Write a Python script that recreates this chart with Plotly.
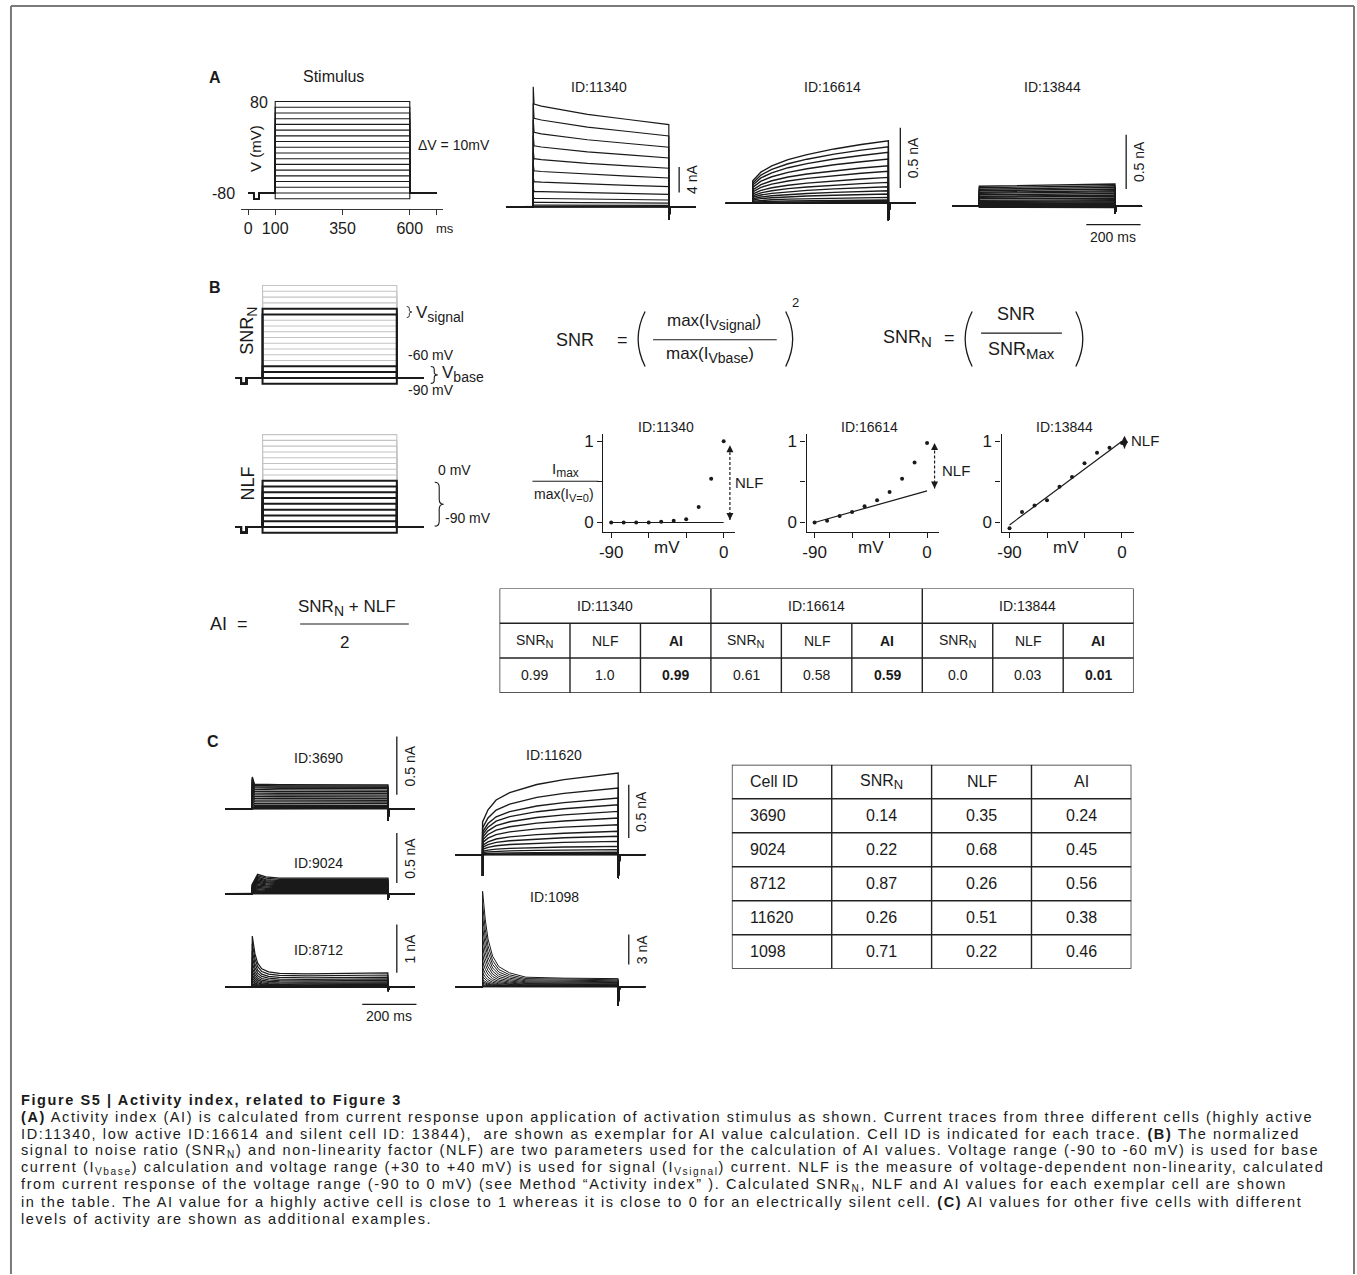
import plotly.graph_objects as go

W, H = 1357, 1275
FONT = "Liberation Sans, Arial, Helvetica, sans-serif"
INK = "#1a1a1a"
GREY = "#c4c4c4"

# ---------------- voltage protocol ----------------
STEP_MV = [-90, -80, -70, -60, -50, -40, -30, -20, -10, 0, 10, 20, 30, 40, 50, 60, 70, 80]
HOLD_MV = -80
PRE_MV = -90
PRE_MS = [20, 40]
STEP_MS = [100, 600]
END_MS = 700
STIM_TICK_MS = [0, 100, 350, 600]
STIM_TICK_TXT = ["0", "100", "350", "600"]
STIM_MINOR_MS = [700]
SIGNAL_MV = [30, 40]
BASE_MV = [-90, -80, -70, -60]
NLF_MAX_MV = 0

# ---------------- current families (amplitude per sweep, -90 .. +80 mV) ----------------
AMP_11340 = [0.0, 0.0, 0.0, 0.0, 0.02, 0.04, 0.07, 0.25, 0.7, 1.3, 2.4, 3.9, 5.6, 7.5, 9.5, 11.6, 13.8, 16.0]
PT_11340 = [100, 103, 130, 300, 450, 600]
PF_11340 = [1.17, 1.0, 0.98, 0.9, 0.85, 0.8]
DIP_11340 = -2.0

AMP_16614 = [0.0, 0.002, 0.004, 0.008, 0.017, 0.028, 0.05, 0.078, 0.105, 0.138, 0.174, 0.215, 0.265, 0.312, 0.367, 0.422, 0.469, 0.518]
PT_16614 = [100, 130, 170, 230, 300, 400, 500, 600]
PF_16614 = [0.36, 0.5, 0.6, 0.7, 0.78, 0.87, 0.94, 1.0]
DIP_16614 = -0.14

AMP_13844 = [-0.01, 0.0, 0.01, 0.02, 0.03, 0.04, 0.05, 0.06, 0.075, 0.09, 0.1, 0.115, 0.13, 0.14, 0.155, 0.17, 0.185, 0.2]
PT_13844 = [100, 200, 350, 500, 600]
PF_13844 = [0.93, 0.95, 0.97, 1.0, 1.03]
DIP_13844 = -0.07

AMP_3690 = [0.0, 0.005, 0.01, 0.02, 0.03, 0.045, 0.06, 0.075, 0.09, 0.105, 0.12, 0.135, 0.15, 0.165, 0.18, 0.19, 0.2, 0.21]
PT_3690 = [100, 108, 200, 400, 600]
PF_3690 = [1.3, 1.0, 0.98, 0.97, 0.97]
DIP_3690 = -0.1

AMP_9024 = [0.0, 0.004, 0.008, 0.015, 0.022, 0.03, 0.04, 0.05, 0.06, 0.07, 0.08, 0.09, 0.1, 0.11, 0.12, 0.13, 0.143, 0.155]
PT_9024 = [100, 120, 150, 200, 400, 600]
PF_9024 = [0.6, 1.25, 1.08, 1.0, 1.0, 1.0]
DIP_9024 = -0.06

AMP_8712 = [0.0, 0.005, 0.01, 0.02, 0.03, 0.05, 0.07, 0.1, 0.14, 0.19, 0.25, 0.32, 0.4, 0.5, 0.62, 0.75, 0.9, 1.06]
PT_8712 = [100, 110, 120, 135, 160, 200, 300, 450, 600]
PF_8712 = [1.0, 0.65, 0.47, 0.36, 0.3, 0.27, 0.26, 0.27, 0.28]
DIP_8712 = -0.08

AMP_11620 = [0.0, 0.0, 0.002, 0.005, 0.01, 0.022, 0.047, 0.078, 0.125, 0.172, 0.219, 0.281, 0.344, 0.406, 0.469, 0.531, 0.625, 0.766]
PT_11620 = [100, 120, 150, 200, 300, 400, 500, 600]
PF_11620 = [0.4, 0.55, 0.67, 0.76, 0.86, 0.92, 0.96, 1.0]
DIP_11620 = -0.22
ONSET_11620 = -0.2

AMP_1098 = [0.0, 0.05, 0.1, 0.2, 0.35, 0.5, 0.7, 1.0, 1.4, 1.9, 2.5, 3.2, 4.0, 4.9, 5.9, 7.0, 8.2, 9.56]
PT_1098 = [100, 110, 120, 137, 160, 200, 260, 400, 600]
PF_1098 = [1.0, 0.7, 0.5, 0.32, 0.21, 0.145, 0.1, 0.09, 0.085]
DIP_1098 = -1.9

SCALE_MS = 200

# ---------------- normalised I-V (NLF) ----------------
NLF_MV = [-90, -80, -70, -60, -50, -40, -30, -20, -10, 0]
IV_11340 = [0.0, 0.0, 0.0, 0.0, 0.01, 0.02, 0.04, 0.19, 0.54, 1.0]
IV_16614 = [0.0, 0.02, 0.08, 0.13, 0.2, 0.275, 0.377, 0.54, 0.74, 0.98]
IV_13844 = [-0.07, 0.13, 0.21, 0.275, 0.44, 0.56, 0.73, 0.86, 0.92, 0.98]
FIT_11340 = [0.0, 0.0]
FIT_16614 = [0.0, 0.39]
FIT_13844 = [-0.03, 1.0]
ARROW_11340 = [0.03, 0.95]
ARROW_16614 = [0.42, 0.98]
ARROW_13844 = [0.91, 1.07]


def sub(s, size):
    return f"<sub><span style='font-size:{size}px'>{s}</span></sub>"


# ---------------- tables ----------------
T1_IDS = ["ID:11340", "ID:16614", "ID:13844"]
T1_HEAD = ["SNR" + sub("N", 11), "NLF", "<b>AI</b>"]
T1_SNRN = ["0.99", "0.61", "0.0"]
T1_NLF = ["1.0", "0.58", "0.03"]
T1_AI = ["0.99", "0.59", "0.01"]

T2_HEAD = ["Cell ID", "SNR" + sub("N", 13), "NLF", "AI"]
T2_CELL = ["3690", "9024", "8712", "11620", "1098"]
T2_SNRN = ["0.14", "0.22", "0.87", "0.26", "0.71"]
T2_NLF = ["0.35", "0.68", "0.26", "0.51", "0.22"]
T2_AI = ["0.24", "0.45", "0.56", "0.38", "0.46"]

CAPTION = [
    "<b>Figure S5 | Activity index, related to Figure 3</b>",
    "<b>(A)</b> Activity index (AI) is calculated from current response upon application of activation stimulus as shown. Current traces from three different cells (highly active",
    "ID:11340, low active ID:16614 and silent cell ID: 13844),  are shown as exemplar for AI value calculation. Cell ID is indicated for each trace. <b>(B)</b> The normalized",
    "signal to noise ratio (SNR<sub>N</sub>) and non-linearity factor (NLF) are two parameters used for the calculation of AI values. Voltage range (-90 to -60 mV) is used for base",
    "current (I<sub>Vbase</sub>) calculation and voltage range (+30 to +40 mV) is used for signal (I<sub>Vsignal</sub>) current. NLF is the measure of voltage-dependent non-linearity, calculated",
    "from current response of the voltage range (-90 to 0 mV) (see Method \u201cActivity index\u201d ). Calculated SNR<sub>N</sub>, NLF and AI values for each exemplar cell are shown",
    "in the table. The AI value for a highly active cell is close to 1 whereas it is close to 0 for an electrically silent cell. <b>(C)</b> AI values for other five cells with different",
    "levels of activity are shown as additional examples.",
]

fig = go.Figure()
_n = [0]


def make_axes(x_ref, x_scale, x_box, y_ref, y_scale, y_box, xstyle=None, ystyle=None):
    """Create an x/y axis pair whose units map to a given pixel scale inside a pixel box."""
    _n[0] += 1
    sfx = "" if _n[0] == 1 else str(_n[0])
    xv, xp = x_ref
    yv, yp = y_ref
    x0, x1 = x_box
    y0, y1 = y_box
    xr = [xv + (x0 - xp) / x_scale, xv + (x1 - xp) / x_scale]
    yr = [yv - (y1 - yp) / y_scale, yv - (y0 - yp) / y_scale]
    base = dict(showgrid=False, zeroline=False, fixedrange=True)
    xa = dict(base, domain=[x0 / W, x1 / W], range=xr, anchor="y" + sfx)
    ya = dict(base, domain=[1 - y1 / H, 1 - y0 / H], range=yr, anchor="x" + sfx)
    xa.update(xstyle or dict(visible=False))
    ya.update(ystyle or dict(visible=False))
    fig.update_layout({"xaxis" + sfx: xa, "yaxis" + sfx: ya})
    return "x" + sfx, "y" + sfx


def text(x, y, s, size=14, xanchor="center", yanchor="middle", angle=0, color=INK):
    fig.add_annotation(x=x / W, y=1 - y / H, xref="paper", yref="paper", text=s, showarrow=False,
                       xanchor=xanchor, yanchor=yanchor, textangle=angle,
                       font=dict(family=FONT, size=size, color=color))


def X(x):
    return x / W


def Y(y):
    return 1 - y / H


def seg(x0, y0, x1, y1, width=1.2, color=INK):
    fig.add_shape(type="line", xref="paper", yref="paper", x0=X(x0), y0=Y(y0), x1=X(x1), y1=Y(y1),
                  line=dict(color=color, width=width))


def paren(cx, top, bot, left=True, bow=7, width=1.3):
    d = -bow if left else bow
    mid = (top + bot) / 2
    p = f"M {X(cx)},{Y(top)} Q {X(cx + 2 * d)},{Y(mid)} {X(cx)},{Y(bot)}"
    fig.add_shape(type="path", xref="paper", yref="paper", path=p, line=dict(color=INK, width=width))


def brace(x, top, bot, w=8, width=1.1):
    q = min(5, (bot - top) / 6)
    m = (top + bot) / 2
    h = x + w / 2
    p = (f"M {X(x)},{Y(top)} Q {X(h)},{Y(top)} {X(h)},{Y(top + q)} L {X(h)},{Y(m - q)} "
         f"Q {X(h)},{Y(m)} {X(x + w)},{Y(m)} Q {X(h)},{Y(m)} {X(h)},{Y(m + q)} "
         f"L {X(h)},{Y(bot - q)} Q {X(h)},{Y(bot)} {X(x)},{Y(bot)}")
    fig.add_shape(type="path", xref="paper", yref="paper", path=p, line=dict(color=INK, width=width))


def stim_family(levels):
    xs, ys = [], []
    for v in levels:
        xs += [0, PRE_MS[0], PRE_MS[0], PRE_MS[1], PRE_MS[1], STEP_MS[0], STEP_MS[0], STEP_MS[1], STEP_MS[1], END_MS, None]
        ys += [HOLD_MV, HOLD_MV, PRE_MV, PRE_MV, HOLD_MV, HOLD_MV, v, v, HOLD_MV, HOLD_MV, None]
    return xs, ys


def current_family(amps, prof_t, prof, dip, onset=0.0):
    xs, ys = [], []
    for a in amps:
        xs += [0, STEP_MS[0]]
        ys += [0, 0]
        if onset:
            xs += [STEP_MS[0], STEP_MS[0]]
            ys += [onset, 0]
        xs += prof_t
        ys += [a * p for p in prof]
        xs += [STEP_MS[1], STEP_MS[1] + 6, END_MS, None]
        ys += [dip, 0, 0, None]
    return xs, ys


# ================= Panel A : stimulus =================
text(212, 77, "<b>A</b>", 16)
text(330, 76, "Stimulus", 16)
tick_style = dict(visible=True, showline=True, linecolor="#333", linewidth=1.4, ticks="outside",
                  ticklen=5, tickwidth=1.4, tickcolor="#333", tickvals=STIM_TICK_MS, ticktext=STIM_TICK_TXT,
                  tickfont=dict(family=FONT, size=16, color=INK),
                  minor=dict(tickvals=STIM_MINOR_MS, ticks="outside", ticklen=5, tickwidth=1.4, tickcolor="#333"))
xa, ya = make_axes((0, 245), 0.27, (238, 440), (HOLD_MV, 192.3), 0.5725, (92, 208.3), xstyle=tick_style)
sx, sy = stim_family(STEP_MV)
fig.add_trace(go.Scatter(x=sx, y=sy, xaxis=xa, yaxis=ya, mode="lines", line=dict(color=INK, width=1.1),
                         hoverinfo="skip"))
text(267, 101.7, "80", 16, xanchor="right")
text(234, 193, "-80", 16, xanchor="right")
text(253, 148, "V (mV)", 15, angle=-90)
text(413, 144, "\u0394V = 10mV", 14, xanchor="left")
text(431, 228, "ms", 13, xanchor="left")

# ================= current traces =================
TIME_PX = 0.272


def cell_panel(title, title_xy, amps, pt, pf, dip, x100, base, px_per_nA, bar_nA, bar_t, bar_y0,
               onset=0.0, time_bar=None, lw=1.2):
    xa, ya = make_axes((STEP_MS[0], x100), TIME_PX, (x100 - 36, x100 + 175),
                       (0, base), px_per_nA, (base - 132, base + 28))
    cx, cy = current_family(amps, pt, pf, dip, onset)
    fig.add_trace(go.Scatter(x=cx, y=cy, xaxis=xa, yaxis=ya, mode="lines",
                             line=dict(color=INK, width=lw), hoverinfo="skip"))
    text(title_xy[0], title_xy[1], title, 14)
    fig.add_shape(type="line", xref=xa, yref=ya, x0=bar_t, x1=bar_t, y0=bar_y0, y1=bar_y0 + bar_nA,
                  line=dict(color=INK, width=1.3))
    lab = f"{bar_nA:g} nA"
    fig.add_annotation(x=bar_t, y=bar_y0 + bar_nA / 2, xref=xa, yref=ya, text=lab, showarrow=False,
                       textangle=-90, xshift=13, font=dict(family=FONT, size=14, color=INK))
    if time_bar:
        t0, yb = time_bar
        fig.add_shape(type="line", xref=xa, yref=ya, x0=t0, x1=t0 + SCALE_MS, y0=yb, y1=yb,
                      line=dict(color=INK, width=1.3))
        fig.add_annotation(x=t0 + SCALE_MS / 2, y=yb, xref=xa, yref=ya, text=f"{SCALE_MS} ms",
                           showarrow=False, yshift=-12, font=dict(family=FONT, size=14, color=INK))


cell_panel("ID:11340", (597, 86), AMP_11340, PT_11340, PF_11340, DIP_11340, 530.8, 206, 6.42, 4, 638, 2.2)
cell_panel("ID:16614", (831, 86), AMP_16614, PT_16614, PF_16614, DIP_16614, 751, 202.7, 121, 0.5, 644, 0.127,
           lw=1.4)
cell_panel("ID:13844", (1052, 86), AMP_13844, PT_13844, PF_13844, DIP_13844, 978.2, 205.7, 108.7, 0.5, 641.5, 0.16,
           time_bar=(494.5, -0.168), lw=1.4)

# ================= Panel B : stimulus schemes =================
text(212, 287, "<b>B</b>", 16)
for top_px, black_levels, lab, lab_y in [
    (285, BASE_MV + SIGNAL_MV, "SNR" + sub("N", 14), 330),
    (434.3, [v for v in STEP_MV if v <= NLF_MAX_MV], "NLF", 483),
]:
    xa, ya = make_axes((STEP_MS[0], 259.3), 0.2694, (225, 428), (80, top_px), 0.578, (top_px - 6, top_px + 108))
    grey = [v for v in STEP_MV if v not in black_levels]
    gx, gy = stim_family(grey)
    bx, by = stim_family(black_levels)
    fig.add_trace(go.Scatter(x=gx, y=gy, xaxis=xa, yaxis=ya, mode="lines", line=dict(color=GREY, width=1.1),
                             hoverinfo="skip"))
    fig.add_trace(go.Scatter(x=bx, y=by, xaxis=xa, yaxis=ya, mode="lines", line=dict(color=INK, width=2.0),
                             hoverinfo="skip"))
    text(245, lab_y, lab, 18, angle=-90)

brace(404, 306, 317, w=5, width=0.9)
text(411, 313, "V" + sub("signal", 14), 17, xanchor="left")
text(403, 355, "-60 mV", 14, xanchor="left")
brace(428, 366, 383, w=7)
text(437, 374, "V" + sub("base", 14), 17, xanchor="left")
text(403, 390, "-90 mV", 14, xanchor="left")
text(433, 470, "0 mV", 14, xanchor="left")
brace(432, 482, 526, w=9)
text(440, 518, "-90 mV", 14, xanchor="left")

# ================= SNR equations =================
text(573, 340, "SNR", 18)
text(620, 340, "=", 18)
paren(643, 311, 366, left=True)
text(712, 322, "max(I" + sub("Vsignal", 14) + ")", 17)
seg(651, 339.3, 775, 339.3, 1.2)
text(708, 355, "max(I" + sub("Vbase", 14) + ")", 17)
paren(784, 311, 366, left=False)
text(794, 302, "2", 13)

text(906, 338, "SNR" + sub("N", 15), 18)
text(948, 338, "=", 18)
paren(971, 311, 366, left=True)
text(1015, 313, "SNR", 18)
seg(980, 332.7, 1061, 332.7, 1.2)
text(1021, 350, "SNR" + sub("Max", 15), 18)
paren(1075, 311, 366, left=False)

# ================= normalised I-V plots =================
MINOR_IV_X = dict(tickvals=[-60, -30], ticks="outside", ticklen=5, tickwidth=1.3, tickcolor=INK)
MINOR_IV_Y = dict(tickvals=[0.5], ticks="outside", ticklen=5, tickwidth=1.3, tickcolor=INK)
iv_x = dict(visible=True, showline=True, linecolor=INK, linewidth=1.3, ticks="outside", ticklen=5, tickwidth=1.3,
            tickcolor=INK, tickvals=[-90, 0], ticktext=["-90", "0"], minor=MINOR_IV_X,
            tickfont=dict(family=FONT, size=17, color=INK))
iv_y = dict(visible=True, showline=True, linecolor=INK, linewidth=1.3, ticks="outside", ticklen=5, tickwidth=1.3,
            tickcolor=INK, tickvals=[0, 1], ticktext=["0", "1"], minor=MINOR_IV_Y,
            tickfont=dict(family=FONT, size=17, color=INK))
IV_PX_MV = 1.2533
IV_PX_UNIT = 81.3
for title, left, iv, fit, arr, arr_x, nlf_xy in [
    ("ID:11340", 601, IV_11340, FIT_11340, ARROW_11340, 5, (731, 482)),
    ("ID:16614", 805, IV_16614, FIT_16614, ARROW_16614, 6, (939, 470)),
    ("ID:13844", 1000.5, IV_13844, FIT_13844, ARROW_13844, 2, (1128, 440)),
]:
    xa, ya = make_axes((-90, left + 8), IV_PX_MV, (left, left + 132.4), (0, 522.3), IV_PX_UNIT, (433.3, 531.7),
                       xstyle=iv_x, ystyle=iv_y)
    fig.add_trace(go.Scatter(x=[NLF_MV[0], NLF_MV[-1]], y=fit, xaxis=xa, yaxis=ya, mode="lines",
                             line=dict(color=INK, width=1.2), hoverinfo="skip", cliponaxis=False))
    fig.add_trace(go.Scatter(x=NLF_MV, y=iv, xaxis=xa, yaxis=ya, mode="markers",
                             marker=dict(color=INK, size=4), hoverinfo="skip", cliponaxis=False))
    fig.add_trace(go.Scatter(x=[arr_x, arr_x], y=arr, xaxis=xa, yaxis=ya, mode="lines+markers",
                             line=dict(color=INK, width=1.2, dash="3px,2px"),
                             marker=dict(symbol=["arrow-down", "arrow-up"], size=7, color=INK),
                             hoverinfo="skip", cliponaxis=False))
    text(left + 63, 427, title, 14)
    fig.add_annotation(x=-45, y=0, xref=xa, yref=ya, text="mV", showarrow=False, yshift=-25,
                       font=dict(family=FONT, size=17, color=INK))
    text(nlf_xy[0], nlf_xy[1], "NLF", 15, xanchor="left")

text(563, 470, "I" + sub("max", 12), 15)
seg(530, 481, 596, 481, 1.0)
text(562, 495, "max(I" + sub("V=0", 11) + ")", 14)

# ================= AI formula =================
text(226, 624, "AI  =", 18)
text(344, 608, "SNR" + sub("N", 14) + " + NLF", 17)
seg(297, 624, 406, 624, 1.2)
text(342, 643, "2", 17)

# ================= table 1 =================
xa, ya = make_axes((0, 497), 636 / 9, (497, 1133), (0, 693), 104.7 / 3, (588.3, 693))
TLINE = dict(color="#222", width=1.4)
fig.add_shape(type="rect", xref=xa, yref=ya, x0=0, x1=9, y0=0, y1=3, line=TLINE)
for yv in [1, 2]:
    fig.add_shape(type="line", xref=xa, yref=ya, x0=0, x1=9, y0=yv, y1=yv, line=TLINE)
for xv in range(1, 9):
    fig.add_shape(type="line", xref=xa, yref=ya, x0=xv, x1=xv, y0=0, y1=3 if xv % 3 == 0 else 2, line=TLINE)
for i, cid in enumerate(T1_IDS):
    fig.add_annotation(x=3 * i + 1.5, y=2.5, xref=xa, yref=ya, text=cid, showarrow=False,
                       font=dict(family=FONT, size=14, color=INK))
    for j, (h, v) in enumerate(zip(T1_HEAD, [T1_SNRN[i], T1_NLF[i], "<b>" + T1_AI[i] + "</b>"])):
        fig.add_annotation(x=3 * i + j + 0.5, y=1.5, xref=xa, yref=ya, text=h, showarrow=False,
                           font=dict(family=FONT, size=14, color=INK))
        fig.add_annotation(x=3 * i + j + 0.5, y=0.5, xref=xa, yref=ya, text=v, showarrow=False,
                           font=dict(family=FONT, size=14, color=INK))

# ================= Panel C =================
text(210, 742, "<b>C</b>", 16)
cell_panel("ID:3690", (315, 758), AMP_3690, PT_3690, PF_3690, DIP_3690, 249, 809, 116.7, 0.5, 633, 0.12, lw=1.4)
cell_panel("ID:9024", (315, 863), AMP_9024, PT_9024, PF_9024, DIP_9024, 249, 894, 100, 0.5, 633, 0.107, lw=1.4)
cell_panel("ID:8712", (315, 950), AMP_8712, PT_8712, PF_8712, DIP_8712, 249, 987.7, 48.3, 1, 633, 0.298,
           time_bar=(505.5, -0.358))
cell_panel("ID:11620", (552, 755), AMP_11620, PT_11620, PF_11620, DIP_11620, 480, 855, 106.7, 0.5, 639, 0.157,
           onset=ONSET_11620, lw=1.4)
cell_panel("ID:1098", (552, 897), AMP_1098, PT_1098, PF_1098, DIP_1098, 480, 987.3, 10, 3, 639, 2.23, lw=1.0)

# ================= table 2 =================
xa, ya = make_axes((0, 730), 400.7 / 4, (730, 1130.7), (0, 969.3), 204.3 / 6, (765, 969.3))
fig.add_shape(type="rect", xref=xa, yref=ya, x0=0, x1=4, y0=0, y1=6, line=TLINE)
for yv in range(1, 6):
    fig.add_shape(type="line", xref=xa, yref=ya, x0=0, x1=4, y0=yv, y1=yv, line=TLINE)
for xv in range(1, 4):
    fig.add_shape(type="line", xref=xa, yref=ya, x0=xv, x1=xv, y0=0, y1=6, line=TLINE)
rows = [T2_HEAD] + [list(r) for r in zip(T2_CELL, T2_SNRN, T2_NLF, T2_AI)]
for r, row in enumerate(rows):
    for c, val in enumerate(row):
        if c == 0:
            fig.add_annotation(x=0.16, y=5.5 - r, xref=xa, yref=ya, text=val, showarrow=False, xanchor="left",
                               font=dict(family=FONT, size=16, color=INK))
        else:
            fig.add_annotation(x=c + 0.5, y=5.5 - r, xref=xa, yref=ya, text=val, showarrow=False,
                               font=dict(family=FONT, size=16, color=INK))

# ================= caption =================
for k, line in enumerate(CAPTION):
    text(15, 1101 + 17 * k, f"<span style='letter-spacing:1.6px'>{line}</span>", 14.5, xanchor="left")

# ================= frame =================
FRAME = "#7a7a7a"
seg(7, 5, 7, 1275, 2, FRAME)
seg(7, 5, 1354, 5, 2, FRAME)
seg(1354, 5, 1354, 1275, 2, FRAME)

fig.update_layout(width=W, height=H, margin=dict(l=0, r=0, t=0, b=0), showlegend=False,
                  paper_bgcolor="white", plot_bgcolor="rgba(0,0,0,0)")
fig.write_html("out.html")
